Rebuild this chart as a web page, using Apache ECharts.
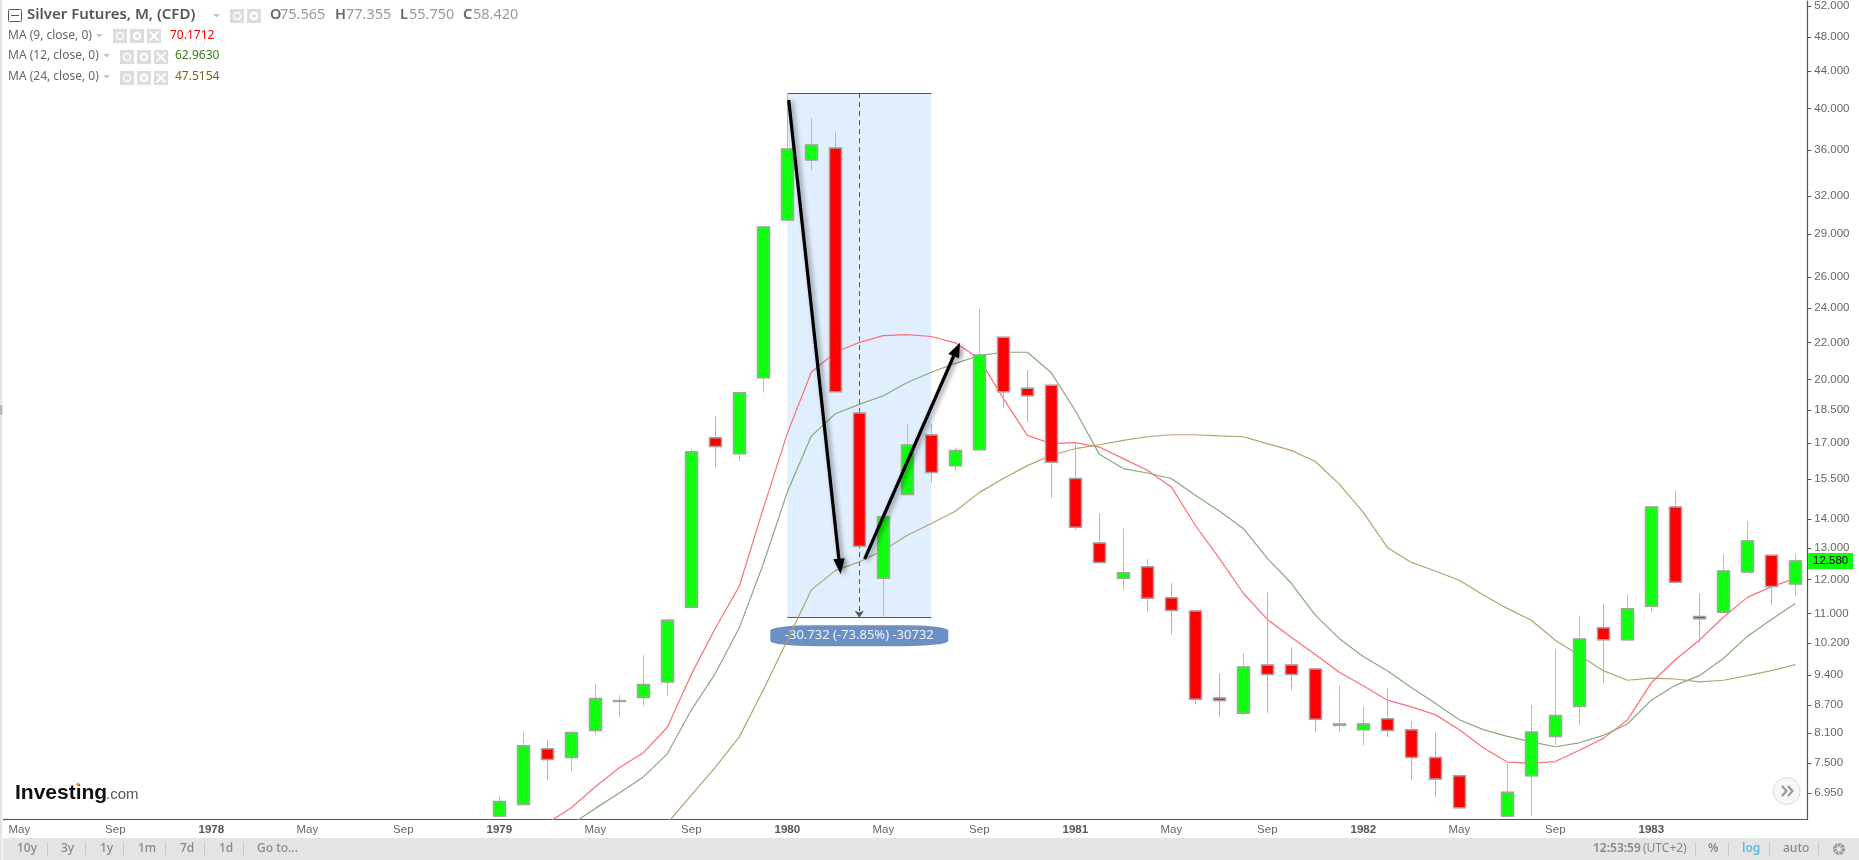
<!DOCTYPE html>
<html>
<head>
<meta charset="utf-8">
<style>html,body{margin:0;padding:0;background:#fff;overflow:hidden}#c{width:1859px;height:860px}</style>
<script src="https://cdn.jsdelivr.net/npm/echarts@6/dist/echarts.min.js"></script>
</head>
<body>
<div id="c"></div>
<script>
const categories = [
 'May 1977','Jun 1977','Jul 1977','Aug 1977','Sep 1977','Oct 1977','Nov 1977','Dec 1977',
 'Jan 1978','Feb 1978','Mar 1978','Apr 1978','May 1978','Jun 1978','Jul 1978','Aug 1978','Sep 1978','Oct 1978','Nov 1978','Dec 1978',
 'Jan 1979','Feb 1979','Mar 1979','Apr 1979','May 1979','Jun 1979','Jul 1979','Aug 1979','Sep 1979','Oct 1979','Nov 1979','Dec 1979',
 'Jan 1980','Feb 1980','Mar 1980','Apr 1980','May 1980','Jun 1980','Jul 1980','Aug 1980','Sep 1980','Oct 1980','Nov 1980','Dec 1980',
 'Jan 1981','Feb 1981','Mar 1981','Apr 1981','May 1981','Jun 1981','Jul 1981','Aug 1981','Sep 1981','Oct 1981','Nov 1981','Dec 1981',
 'Jan 1982','Feb 1982','Mar 1982','Apr 1982','May 1982','Jun 1982','Jul 1982','Aug 1982','Sep 1982','Oct 1982','Nov 1982','Dec 1982',
 'Jan 1983','Feb 1983','Mar 1983','Apr 1983','May 1983','Jun 1983','Jul 1983'];
const yTicks = [52,48,44,40,36,32,29,26,24,22,20,18.5,17,15.5,14,13,12,11,10.2,9.4,8.7,8.1,7.5,6.95];

// Monthly candles from Jan 1979 to Jul 1983 (Jun 1982 falls below the visible range)
const open = [6.55,6.745,7.78,7.61,8.15,8.78,8.87,9.23,11.17,17.24,16.55,20.10,
 30.08,35.07,36.16,18.36,12.03,14.91,17.36,16.05,16.72,22.29,19.56,19.71,
 15.53,13.17,12.03,12.39,11.45,11.07,8.86,8.52,9.64,9.64,9.54,8.26,
 8.17,8.40,8.17,7.61,7.26,null,6.55,7.26,8.03,8.67,10.60,10.28,
 11.20,14.44,10.91,11.03,12.23,12.76,11.86];
const close = [6.80,7.84,7.57,8.11,8.85,8.80,9.17,10.81,16.63,16.85,19.34,29.55,
 36.07,36.44,19.39,13.06,14.08,16.92,15.77,16.68,21.30,19.39,19.19,16.19,
 13.71,12.53,12.20,11.43,11.08,8.83,8.80,9.59,9.41,9.41,8.39,8.29,
 8.29,8.15,7.61,7.20,6.69,null,6.96,8.12,8.47,10.30,10.28,11.13,
 14.44,11.91,10.85,12.26,13.24,11.78,12.58];
const low = [6.55,6.745,7.18,7.35,8.06,8.44,8.68,8.91,11.17,15.99,16.24,19.35,
 30.08,34.15,19.39,13.06,10.92,14.91,15.37,15.83,16.66,18.59,17.94,14.78,
 13.62,12.53,11.68,11.05,10.43,8.72,8.44,8.52,8.53,9.04,8.12,8.12,
 7.85,8.02,7.18,6.88,6.69,null,6.55,6.55,7.85,8.27,9.21,10.28,
 11.03,11.91,10.20,11.03,12.19,11.24,11.50];
const high = [6.89,8.11,7.95,8.11,9.18,8.92,9.88,10.81,16.76,18.20,19.34,29.55,
 41.60,39.06,37.69,18.36,14.08,17.86,17.86,16.81,23.97,22.29,20.50,19.71,
 16.98,14.20,13.67,12.63,11.88,11.07,9.43,9.93,11.61,10.08,9.54,9.15,
 8.68,9.08,8.35,8.11,7.28,null,7.49,8.70,10.05,10.93,11.26,11.55,
 14.44,15.07,11.58,12.80,13.92,12.76,12.82];

// Moving averages; each list ends at Jul 1983
const ma9 = [6.43,6.69,7.06,7.41,7.70,8.22,9.41,10.59,11.79,14.39,
 17.43,20.38,21.45,22.00,22.38,22.44,22.33,21.97,21.09,19.06,17.34,16.98,
 17.02,16.83,16.34,15.86,15.20,13.78,12.66,11.58,10.83,10.35,9.90,9.46,
 9.14,8.81,8.66,8.49,8.17,7.80,7.52,7.50,7.53,7.75,7.99,8.37,
 9.21,9.77,10.27,10.89,11.46,11.77,12.03];
const ma12 = [6.41,6.68,6.95,7.24,7.68,8.59,9.43,10.60,12.49,
 15.00,17.31,18.33,18.77,19.19,19.85,20.38,20.85,21.26,21.45,21.45,20.35,
 18.48,16.52,15.93,15.75,15.53,14.88,14.29,13.67,12.66,11.88,10.95,10.31,
 9.85,9.50,9.10,8.74,8.38,8.17,8.03,7.92,7.82,7.90,8.05,8.29,
 8.81,9.15,9.38,9.80,10.37,10.83,11.28];
const ma24 = [6.43,6.91,7.42,8.02,9.04,
 10.27,11.68,12.27,12.55,12.93,13.43,13.84,14.28,14.98,15.53,16.05,16.48,
 16.76,16.93,17.12,17.28,17.37,17.37,17.32,17.28,16.98,16.69,16.22,15.31,
 14.24,13.02,12.53,12.26,11.97,11.53,11.14,10.81,10.27,9.88,9.50,9.27,
 9.32,9.30,9.23,9.27,9.38,9.50,9.65];

const measureHigh = 41.612, measureLow = 10.88;
const measureFrom = 'Jan 1980', measureMid = 'Apr 1980', measureTo = 'Jul 1980';
const measureText = '-30.732 (-73.85%) -30732';
const lastPrice = 12.58;

const N = categories.length;
const padTo = a => new Array(N - a.length).fill(null).concat(a);
const wickData = padTo(open.map((o, i) => o == null ? ['-','-','-','-'] : [o, close[i], low[i], high[i]]));
const bodyData = padTo(open.map((o, i) => o == null ? ['-','-','-','-'] : [o, close[i], Math.min(o, close[i]), Math.max(o, close[i])]));
const fixPad = a => a.map(d => d == null ? ['-','-','-','-'] : d);

const UI = '"Noto Sans", sans-serif';
const AX = '"Liberation Sans", Arial, sans-serif';
const gfx = [];
const txt = (x, y, text, size, fill, extra) => gfx.push({type:'text', x, y, z:50, silent:true,
  style:Object.assign({text, fontSize:size, fill, fontFamily:UI, textVerticalAlign:'middle', verticalAlign:'middle'}, extra||{})});
const rect = (x, y, w, h, fill, extra) => gfx.push({type:'rect', z:(extra&&extra.z)||40, silent:true,
  shape:{x, y, width:w, height:h, r:(extra&&extra.r)||0}, style:{fill, stroke:(extra&&extra.stroke)||null, lineWidth:(extra&&extra.lw)||0}});
const seg = (x1, y1, x2, y2, stroke, lw, z) => gfx.push({type:'line', z:z||41, silent:true,
  shape:{x1, y1, x2, y2}, style:{stroke, lineWidth:lw||1}});
const caret = (x, y) => gfx.push({type:'polygon', z:41, silent:true, shape:{points:[[x,y],[x+7,y],[x+3.5,y+3.5]]}, style:{fill:'#c4c4c4'}});
const eye = (x, y) => { rect(x,y,14,14,'#dcdcdc');
  gfx.push({type:'circle', z:41, silent:true, shape:{cx:x+7,cy:y+7,r:3.5}, style:{fill:'none',stroke:'#fff',lineWidth:1.5}}); };
const gear = (x, y) => { rect(x,y,14,14,'#dcdcdc');
  gfx.push({type:'circle', z:41, silent:true, shape:{cx:x+7,cy:y+7,r:3.2}, style:{fill:'none',stroke:'#fff',lineWidth:2.4}}); };
const cross = (x, y) => { rect(x,y,14,14,'#dcdcdc'); seg(x+2.5,y+2.5,x+11.5,y+11.5,'#fff',1.8); seg(x+11.5,y+2.5,x+2.5,y+11.5,'#fff',1.8); };

// Header
rect(8.5, 9.5, 13, 12, '#fff', {stroke:'#555', lw:1, r:1}); seg(11, 15.5, 19, 15.5, '#555', 1);
txt(27, 15, 'Silver Futures, M, (CFD)', 15, '#555', {fontWeight:600});
caret(213, 14); eye(230, 9); gear(247, 9);
[['O',270],['H',335],['L',400],['C',463]].forEach(([t,x],i) => txt(x, 15, t, 14.5, '#666', {fontWeight:600}));
[['75.565',280],['77.355',346],['55.750',409],['58.420',473]].forEach(([t,x]) => txt(x, 15, t, 14.5, '#999'));
[['MA (9, close, 0)',36,96,113,'70.1712',170,'#ff0000',29],
 ['MA (12, close, 0)',56,103,120,'62.9630',175,'#3c7a1e',50],
 ['MA (24, close, 0)',77,103,120,'47.5154',175,'#7f6410',71]].forEach(r => {
  txt(8, r[1], r[0], 12, '#666'); caret(r[2], r[1]-2); eye(r[3], r[7]); gear(r[3]+17, r[7]); cross(r[3]+34, r[7]);
  txt(r[5], r[1], r[4], 12, r[6]);
});

// Chart frame extras
rect(0, 0, 2.2, 860, '#e3e5ec');
seg(3, 819.5, 8, 819.5, '#555', 1.2);
rect(0, 405, 2.5, 10, '#bbb');

// Bottom toolbar
rect(3, 838, 1856, 22, '#e4e4e4');
[['10y',17],['3y',61],['1y',100],['1m',138],['7d',180],['1d',219],['Go to...',257]].forEach(([t,x]) => txt(x, 849, t, 12, '#888', {fontWeight:500}));
[47.5,85.5,123.5,165.5,204.5,243.5,1695.5,1728.5,1769.5,1818.5].forEach(x => seg(x, 842, x, 856, '#c8c8c8', 1));
txt(1593, 849, '12:53:59', 12, '#888', {fontWeight:600});
txt(1643, 849, '(UTC+2)', 12, '#888');
txt(1708, 849, '%', 12, '#888', {fontWeight:600});
txt(1742, 849, 'log', 12, '#5db8ea', {fontWeight:600});
txt(1783, 849, 'auto', 12, '#888', {fontWeight:500});
gfx.push({type:'circle', z:41, silent:true, shape:{cx:1839,cy:849,r:4}, style:{fill:'none',stroke:'#999',lineWidth:3.2, lineDash:[2.4,1]}});
gfx.push({type:'circle', z:41, silent:true, shape:{cx:1839,cy:849,r:5.4}, style:{fill:'none',stroke:'#999',lineWidth:1.4, lineDash:[2,2.2]}});

// Scroll button
gfx.push({type:'circle', z:41, silent:true, shape:{cx:1786.7,cy:791,r:13.5}, style:{fill:'#f6f6f6',stroke:'#dcdcdc',lineWidth:1}});
[0,6].forEach(d => gfx.push({type:'polyline', z:42, silent:true, shape:{points:[[1782+d,786],[1786.5+d,791],[1782+d,796]]}, style:{fill:'none',stroke:'#999',lineWidth:2.2}}));

// Logo
gfx.push({type:'text', x:15, y:793, z:50, silent:true, style:{text:'Investing', fontSize:21, fontWeight:700, fill:'#111', fontFamily:AX, verticalAlign:'middle', letterSpacing:-1}});
gfx.push({type:'text', x:106, y:795, z:50, silent:true, style:{text:'.com', fontSize:15, fill:'#555', fontFamily:AX, verticalAlign:'middle', letterSpacing:-0.6}});
gfx.push({type:'circle', z:51, silent:true, shape:{cx:78,cy:784.5,r:1.7}, style:{fill:'#f39c1f'}});

// Hand-drawn arrows
const shadow = {shadowBlur:5, shadowOffsetX:2.5, shadowOffsetY:1.5, shadowColor:'rgba(0,0,0,0.45)'};
const arrow = (x1,y1,bx,by,head) => {
  gfx.push({type:'line', z:60, silent:true, shape:{x1,y1,x2:bx,y2:by}, style:Object.assign({stroke:'#000',lineWidth:3.2},shadow)});
  gfx.push({type:'polygon', z:60, silent:true, shape:{points:head}, style:Object.assign({fill:'#000'},shadow)});
};
arrow(788.7,100,839,560,[[833.3,559.3],[844.7,558.3],[840.7,574]]);
arrow(864.7,559,953.7,356,[[948.3,354],[960,342.7],[959,358.3]]);

const maSeries = (name, data, color) => ({name, type:'line', data:padTo(data), z:3, symbol:'none', smooth:false,
  connectNulls:false, silent:true, lineStyle:{color, width:1.2}, itemStyle:{color}});

const option = {
  animation:false,
  backgroundColor:'#fff',
  graphic:{elements:gfx},
  tooltip:{show:false},
  grid:{left:7.3, right:51.7, top:0, bottom:40.7, containLabel:false},
  xAxis:{type:'category', data:categories, boundaryGap:true, position:'bottom',
    axisLine:{lineStyle:{color:'#555', width:1.2}},
    axisTick:{alignWithLabel:true, interval:3, length:3, lineStyle:{color:'#555'}},
    axisLabel:{interval:3, margin:5, fontSize:11.5, color:'#666', fontFamily:AX, showMinLabel:true, showMaxLabel:false,
      formatter:v => v.startsWith('Jan') ? '{y|'+v.slice(4)+'}' : v.slice(0,3),
      rich:{y:{fontSize:11.5, fontWeight:600, color:'#555', fontFamily:AX}}},
    splitLine:{show:false}},
  yAxis:{type:'log', logBase:10, position:'right', min:6.496, max:52.67, scale:true,
    axisLine:{show:true, lineStyle:{color:'#555', width:1.2}},
    axisTick:{show:true, length:4, customValues:yTicks, lineStyle:{color:'#555'}},
    axisLabel:{margin:7, fontSize:11.5, color:'#666', fontFamily:AX, customValues:yTicks, formatter:v => Number(v).toFixed(3)},
    splitLine:{show:false}, minorTick:{show:false}},
  series:[
    {name:'Measure', type:'line', data:[], z:1, silent:true,
      markArea:{silent:true, z:1, itemStyle:{color:'#e1eefe'}, data:[[{coord:[measureFrom,measureHigh]},{coord:[measureTo,measureLow]}]]},
      markLine:{silent:true, z:2, animation:false, symbol:'none', label:{show:false},
        data:[
          [{coord:[measureFrom,measureHigh],lineStyle:{color:'#555',width:1,type:'solid'}},{coord:[measureTo,measureHigh]}],
          [{coord:[measureFrom,measureLow],lineStyle:{color:'#555',width:1,type:'solid'}},{coord:[measureTo,measureLow]}],
          [{coord:[measureMid,measureHigh],symbol:'none',lineStyle:{color:'#555',width:1,type:[5,4]}},{coord:[measureMid,measureLow],symbol:'arrow',symbolSize:7}]
        ]},
      markPoint:{silent:true, z:2, animation:false,
        data:[
          {coord:[measureMid,measureLow], symbol:'roundRect', symbolSize:[178,21], symbolOffset:[0,18],
           itemStyle:{color:'#6c8fc4'},
           label:{show:true, position:'inside', formatter:measureText, color:'#eef3fb', fontSize:13, fontFamily:UI}},
          {coord:[categories[N-1],lastPrice], symbol:'rect', symbolSize:[45,16], symbolOffset:[35.3,0],
           itemStyle:{color:'#0fff0f'},
           label:{show:true, position:'inside', formatter:lastPrice.toFixed(3), color:'#000', fontSize:11.5, fontFamily:AX}}
        ]}},
    maSeries('MA (9, close, 0)', ma9, '#ff6f75'),
    maSeries('MA (12, close, 0)', ma12, '#88a97f'),
    maSeries('MA (24, close, 0)', ma24, '#b4a26c'),
    {name:'Silver Futures wicks', type:'candlestick', data:fixPad(wickData), z:4, barWidth:13, silent:true,
      itemStyle:{color:'#0fff0f', color0:'#ff0000', borderColor:'#a9c4cc', borderColor0:'#eb9dab', borderColorDoji:'#a9c4cc', borderWidth:1}},
    {name:'Silver Futures bodies', type:'candlestick', data:fixPad(bodyData), z:5, barWidth:13, silent:true,
      itemStyle:{color:'#0fff0f', color0:'#ff0000', borderColor:'#a3a3a3', borderColor0:'#a3a3a3', borderColorDoji:'#a3a3a3', borderWidth:1.5}}
  ]
};
const chart = echarts.init(document.getElementById('c'), null, {renderer:'canvas'});
chart.setOption(option);
</script>
</body>
</html>
